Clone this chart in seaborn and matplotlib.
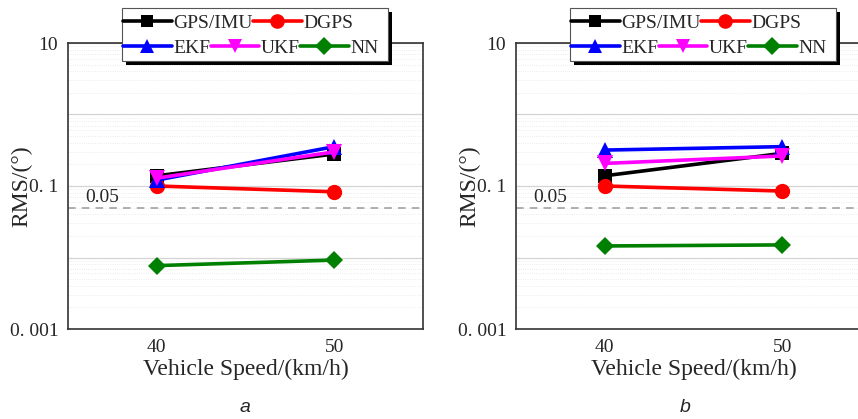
import numpy as np
import pandas as pd
import matplotlib
matplotlib.use("Agg")
import matplotlib.pyplot as plt
from matplotlib.lines import Line2D
from matplotlib.patches import Rectangle
from matplotlib.ticker import LogLocator, NullFormatter
import seaborn as sns

# ---- data ----
speeds = [40, 50]
methods = ["GPS/IMU", "DGPS", "EKF", "UKF", "NN"]

# panel a
gps_imu_a = [0.139, 0.28]
dgps_a = [0.100, 0.083]
ekf_a = [0.121, 0.355]
ukf_a = [0.129, 0.300]
nn_a = [0.0077, 0.0092]

# panel b
gps_imu_b = [0.139, 0.286]
dgps_b = [0.100, 0.085]
ekf_b = [0.318, 0.355]
ukf_b = [0.207, 0.263]
nn_b = [0.0145, 0.0150]

threshold = 0.05
ytick_values = [0.001, 0.01, 0.1, 1, 10]
ytick_labels = ["0. 001", "", "0. 1", "", "10"]
panel_names = ["a", "b"]

colors = {"GPS/IMU": "#000000", "DGPS": "#ff0000", "EKF": "#0000ff",
          "UKF": "#ff00ff", "NN": "#008000"}
markers = {"GPS/IMU": "s", "DGPS": "o", "EKF": "^", "UKF": "v", "NN": "D"}
msizes = {"GPS/IMU": 9.5, "DGPS": 11, "EKF": 11, "UKF": 11, "NN": 9.5}

sns.set_theme(style="white")
plt.rcParams["font.family"] = ["Liberation Serif", "DejaVu Serif"]


def long_df(series):
    rows = []
    for name, vals in zip(methods, series):
        for s, v in zip(speeds, vals):
            rows.append({"speed": s, "rms": v, "method": name})
    return pd.DataFrame(rows)


def draw_panel(ax, series):
    df = long_df(series)
    ax.set_yscale("log")
    for name in methods:
        sub = df[df["method"] == name]
        sns.lineplot(data=sub, x="speed", y="rms", color=colors[name],
                     marker=markers[name], markersize=msizes[name],
                     markeredgewidth=0, linewidth=2.6, ax=ax, legend=False,
                     zorder=3)
    ax.axhline(threshold, color="#9a9a9a", ls=(0, (5, 4)), lw=1.1, zorder=2)
    ax.text(36.0, 0.06, "0.05", fontsize=14, ha="left", va="baseline")

    ax.set_xlim(35, 55)
    ax.set_ylim(0.001, 10)
    ax.set_xticks(speeds)
    ax.set_yticks(ytick_values, labels=ytick_labels)
    ax.yaxis.set_minor_locator(LogLocator(base=10, subs=np.arange(2, 10)))
    ax.yaxis.set_minor_formatter(NullFormatter())

    ax.grid(False)
    ax.grid(axis="y", which="major", color="#d4d4d4", lw=0.9, ls="-")
    ax.grid(axis="y", which="minor", color="#e6e6e6", lw=0.6, ls=":")
    ax.set_axisbelow(True)

    ax.tick_params(axis="both", which="major", direction="in", length=4,
                   width=1.0, labelsize=14, color="#333333")
    ax.tick_params(axis="y", which="major", pad=7)
    ax.tick_params(axis="x", which="major", pad=7)
    ax.tick_params(axis="y", which="minor", length=0)
    for sp in ax.spines.values():
        sp.set_color("#333333")
        sp.set_linewidth(1.2)

    ax.set_xlabel("Vehicle Speed/(km/h)", fontsize=17, labelpad=2)
    # the label sits over the "0. 1" tick text, as in the original figure
    ax.set_ylabel("RMS/(°)", fontsize=17)
    ax.yaxis.set_label_coords(-0.10, 0.5)


def draw_legend(fig, x0, y0):
    W, H = 858.0, 419.0
    # shadow + frame (pixel coords measured from top-left)
    shadow = Rectangle(((x0 + 4) / W, 1 - (y0 + 53 + 4) / H), 266 / W, 53 / H,
                       transform=fig.transFigure, facecolor="black",
                       edgecolor="none", zorder=5)
    frame = Rectangle((x0 / W, 1 - (y0 + 53) / H), 266 / W, 53 / H,
                      transform=fig.transFigure, facecolor="white",
                      edgecolor="#555555", lw=0.8, zorder=6)
    fig.add_artist(shadow)
    fig.add_artist(frame)

    def handle(name):
        return Line2D([], [], color=colors[name], marker=markers[name],
                      markersize=msizes[name] - 0.5, markeredgewidth=0, lw=2.6)

    rows = [["GPS/IMU", "DGPS"], ["EKF", "UKF", "NN"]]
    for i, row in enumerate(rows):
        leg = fig.legend([handle(n) for n in row], row, ncol=len(row),
                         loc="center left",
                         bbox_to_anchor=((x0 + 1) / W, 1 - (y0 + 15.5 + 25 * i) / H),
                         frameon=False, fontsize=14, handlelength=2.5,
                         handletextpad=0.1, columnspacing=0.0, borderpad=0,
                         borderaxespad=0)
        leg.set_zorder(7)


fig = plt.figure(figsize=(8.58, 4.19), dpi=100)
ax_a = fig.add_axes([68 / 858, 90 / 419, 355 / 858, 286 / 419])
ax_b = fig.add_axes([516 / 858, 90 / 419, 355 / 858, 286 / 419])

draw_panel(ax_a, [gps_imu_a, dgps_a, ekf_a, ukf_a, nn_a])
draw_panel(ax_b, [gps_imu_b, dgps_b, ekf_b, ukf_b, nn_b])

draw_legend(fig, 122, 8)
draw_legend(fig, 570, 8)

for cx, name in zip([245, 685], panel_names):
    fig.text(cx / 858, 1 - 407 / 419, name, fontsize=14, style="italic",
             family="Liberation Sans", ha="center", va="center")

fig.savefig("out.png", dpi=100)
